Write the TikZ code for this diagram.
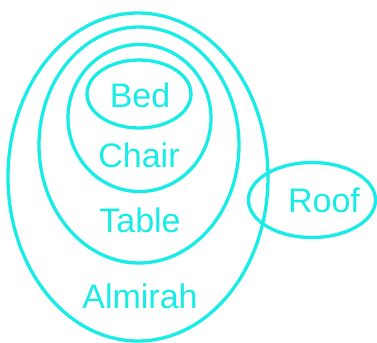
\documentclass[tikz,border=0pt]{standalone}
\usepackage{fontspec}
\setmainfont{Liberation Sans}
\definecolor{cy}{HTML}{18ECE6}
\begin{document}
\begin{tikzpicture}[x=1bp,y=-1bp,
  ring/.style={draw=cy,line width=3.3bp},
  lbl/.style={text=cy,font=\fontsize{34bp}{40bp}\selectfont,anchor=base,inner sep=0pt}]
\useasboundingbox (0,0) rectangle (377,343);
\draw[ring] (138,177) ellipse [x radius=130,y radius=164];
\draw[ring] (139,145) ellipse [x radius=100,y radius=118];
\draw[ring] (139.5,118) ellipse [x radius=71.5,y radius=73.5];
\draw[ring] (139,94) ellipse [x radius=52,y radius=34];
\draw[ring] (312,200) ellipse [x radius=63.5,y radius=37.5];
\node[lbl] (bed) at (140,107) {Bed};
\node[lbl] (chair) at (139,167) {Chair};
\node[lbl] (table) at (140,232) {Table};
\node[lbl] (almirah) at (140,308) {Almirah};
\node[lbl] (roof) at (324,212) {Roof};
\end{tikzpicture}
\end{document}
